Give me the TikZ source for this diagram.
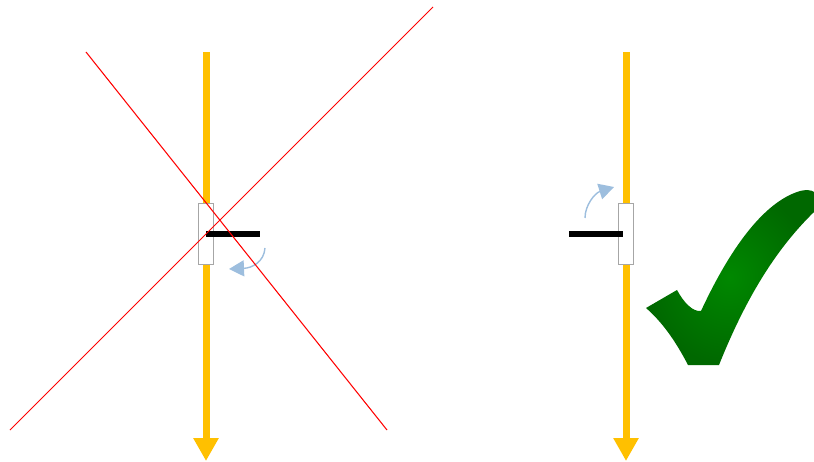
\documentclass[tikz,border=0pt]{standalone}
\usepackage{xcolor}
\usetikzlibrary{arrows.meta}
\definecolor{flowGold}{RGB}{255,192,0}
\definecolor{hingeGray}{RGB}{166,166,166}
\definecolor{turnBlue}{RGB}{157,190,222}
\definecolor{tickDark}{RGB}{0,104,0}
\definecolor{tickLight}{RGB}{0,136,0}
\tikzset{
  flowarrow/.style={-{Triangle[width=0.48cm,length=0.46cm]}, draw=flowGold, line width=0.14cm},
  hingebox/.style={draw=hingeGray, fill=white, line width=0.5pt},
  flapbar/.style={draw=black, line width=0.12cm},
  turnarrow/.style={-{Triangle[width=0.32cm,length=0.3cm]}, draw=turnBlue, line width=0.8pt},
  crossline/.style={draw=red, line width=0.6pt},
}
\begin{document}
\begin{tikzpicture}[x=0.02cm,y=-0.02cm]
  \useasboundingbox (0,0) rectangle (814,462);

  % left: wrong way round
  \draw[flowarrow] (206,52) -- (206,461);
  \draw[hingebox] (198,203) rectangle (213,264);
  \draw[flapbar] (206,234) -- (260,234);
  \draw[turnarrow] (265,248) .. controls (264,262) and (252,268) .. (229,269);
  \draw[crossline] (86,52) -- (387,430);
  \draw[crossline] (10,430) -- (433,7);

  % right: correct way round
  \draw[flowarrow] (626,52) -- (626,461);
  \draw[hingebox] (618,203) rectangle (633,264);
  \draw[flapbar] (569,234) -- (623,234);
  \draw[turnarrow] (585,218) .. controls (585,205) and (595,193) .. (614,187);

  % tick
  \shade[inner color=tickLight, outer color=tickDark, draw=none]
    (646,308) -- (677,290)
    .. controls (684,303) and (693,312) .. (701,311)
    .. controls (727,255) and (760,205) .. (797,192)
    .. controls (805,189) and (812,190) .. (814,192)
    -- (814,212)
    .. controls (775,250) and (745,300) .. (719,365)
    -- (688,365)
    .. controls (675,340) and (662,322) .. cycle;
\end{tikzpicture}
\end{document}
